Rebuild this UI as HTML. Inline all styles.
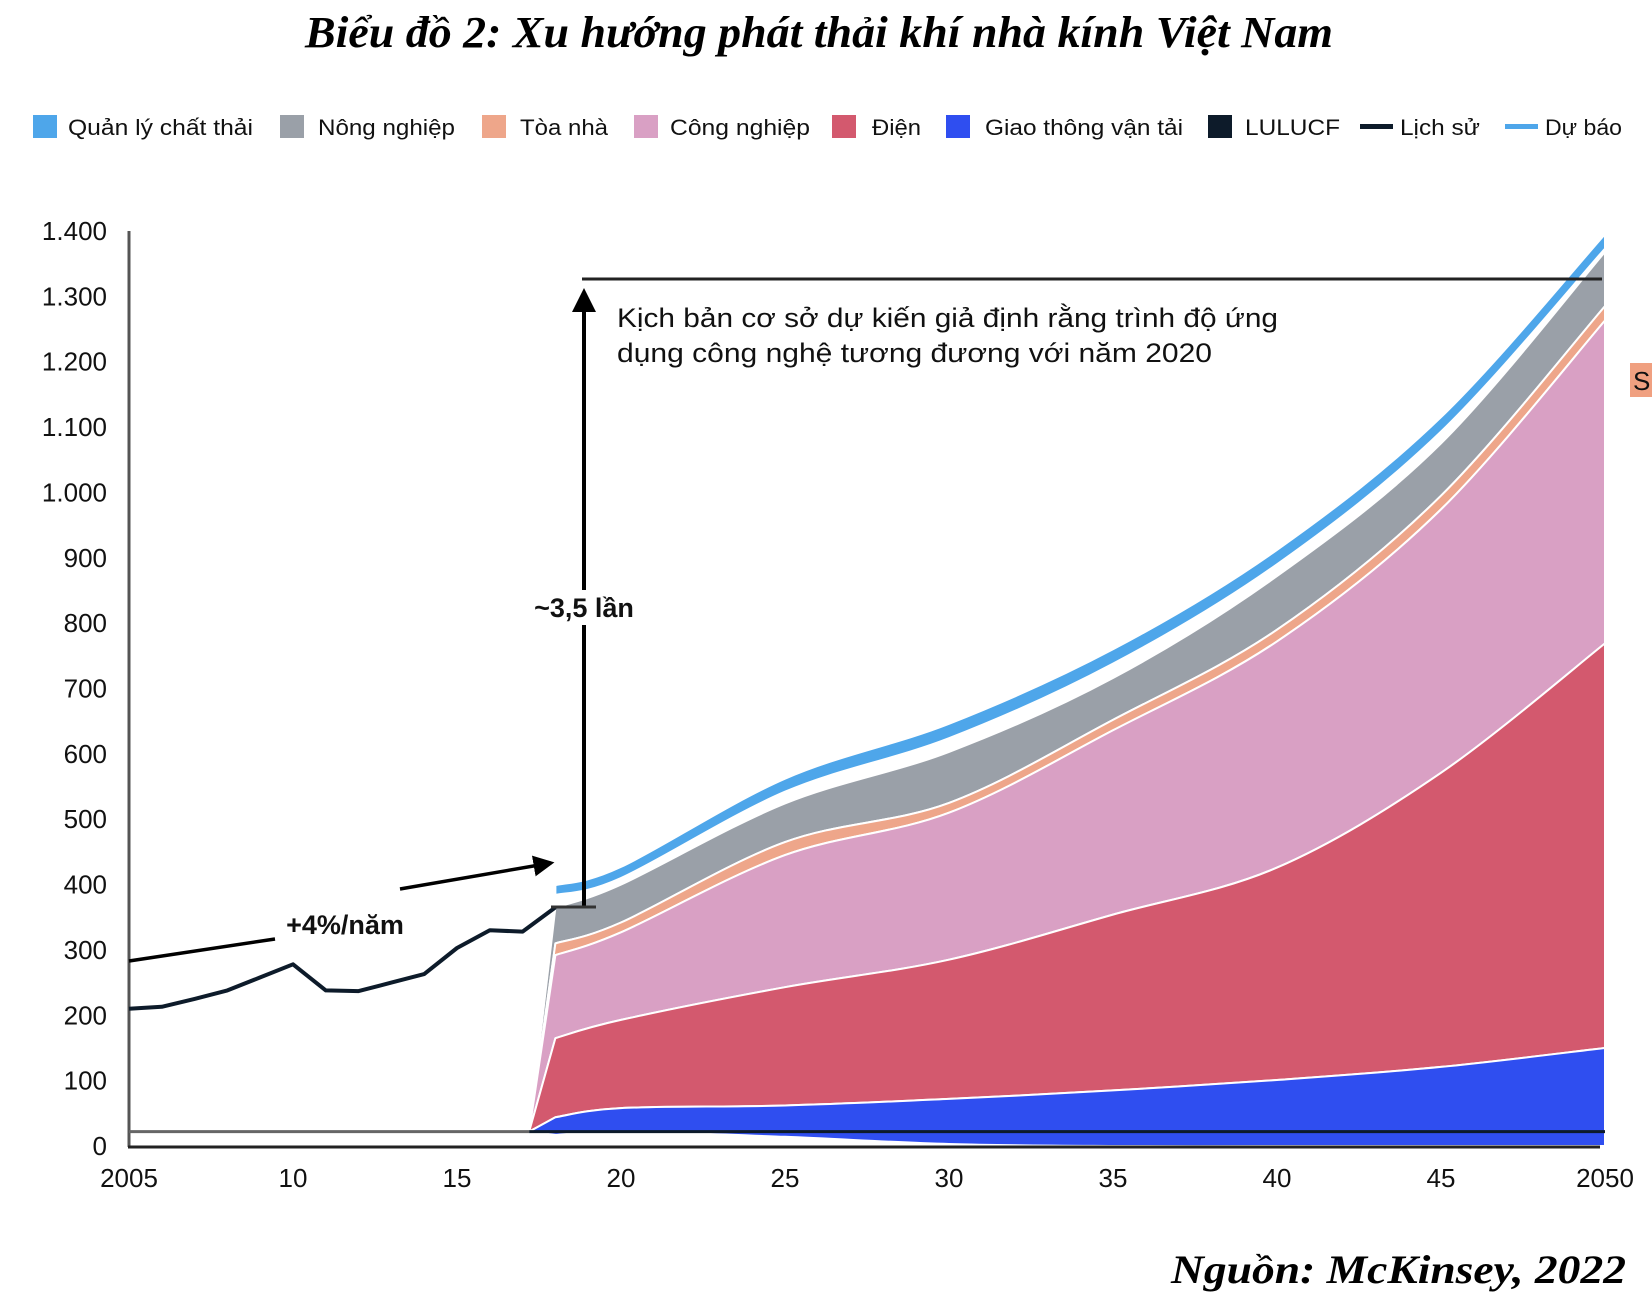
<!DOCTYPE html>
<html><head><meta charset="utf-8"><style>
html,body{margin:0;padding:0;background:#fff;}
svg{display:block;}
text{font-family:"Liberation Sans",sans-serif;}
</style></head><body>
<svg id="chart" width="1652" height="1300" viewBox="0 0 1652 1300">
<text x="819" y="47" text-anchor="middle" font-size="44" font-weight="bold" font-style="italic" textLength="1028" lengthAdjust="spacingAndGlyphs" style="font-family:'Liberation Serif',serif">Biểu đồ 2: Xu hướng phát thải khí nhà kính Việt Nam</text>
<g id="legend" font-size="22" fill="#111"></g>
<g id="plot"></g>
<text x="1626" y="1283" text-anchor="end" font-size="40" font-weight="bold" font-style="italic" textLength="455" lengthAdjust="spacingAndGlyphs" style="font-family:'Liberation Serif',serif">Nguồn: McKinsey, 2022</text>
</svg>
<script>
const histYears = [2005,2006,2007,2008,2009,2010,2011,2012,2013,2014,2015,2016,2017,2018];
const histValues = [210,213,225,238,258,278,238,237,250,263,303,330,328,365];
const fcYears = [2018,2020,2025,2030,2035,2040,2045,2050];
const transportLow = [17,22,14,3,0,0,0,0];
const transport = [44,58,62,72,85,101,121,150];
const dien = [165,193,243,285,354,426,571,769];
const congNghiep = [292,327,445,510,636,772,974,1263];
const toaNha = [310,342,465,525,652,790,995,1285];
const nongNghiep = [365,400,524,603,716,872,1075,1368];
const wasteLow = [384,410,542,624,738,890,1093,1373];
const wasteTop = [399,427,562,646,760,912,1115,1395];
const startYear = 2017.2, startValue = 22, lulucfValue = 22;
const yTicks = [0,100,200,300,400,500,600,700,800,900,1000,1100,1200,1300,1400];
const yTickLabels = ["0","100","200","300","400","500","600","700","800","900","1.000","1.100","1.200","1.300","1.400"];
const xTicks = [2005,2010,2015,2020,2025,2030,2035,2040,2045,2050];
const xTickLabels = ["2005","10","15","20","25","30","35","40","45","2050"];

const NS = "http://www.w3.org/2000/svg";
const X = yr => 129 + (yr - 2005) * 32.8;
const Y = v => 1146 - v * 0.6536;
function mk(tag, attrs, parent){const e=document.createElementNS(NS,tag);for(const k in attrs)e.setAttribute(k,attrs[k]);parent.appendChild(e);return e;}
function smooth(pts){
  let d="";
  for(let i=0;i<pts.length-1;i++){
    const p0=pts[Math.max(0,i-1)],p1=pts[i],p2=pts[i+1],p3=pts[Math.min(pts.length-1,i+2)];
    const c1=[p1[0]+(p2[0]-p0[0])/6,p1[1]+(p2[1]-p0[1])/6];
    const c2=[p2[0]-(p3[0]-p1[0])/6,p2[1]-(p3[1]-p1[1])/6];
    d+=` C${c1[0].toFixed(1)},${c1[1].toFixed(1)} ${c2[0].toFixed(1)},${c2[1].toFixed(1)} ${p2[0].toFixed(1)},${p2[1].toFixed(1)}`;
  }
  return d;
}
const plotG=document.getElementById('plot');
const legendG=document.getElementById('legend');

const legItems=[["sq","#4ea6ea","Quản lý chất thải",33,68,185],["sq","#9aa0a8","Nông nghiệp",280,318,137],["sq","#eea68a","Tòa nhà",482,520,88],["sq","#d9a0c4","Công nghiệp",634,670,140],["sq","#d3596e","Điện",832,872,49],["sq","#2f4ef0","Giao thông vận tải",946,985,198],["sq","#0d1b2a","LULUCF",1208,1245,95],["ln","#0d1b2a","Lịch sử",1360,1400,80],["ln","#4ea6ea","Dự báo",1505,1545,77]];
legItems.forEach(it=>{
  let m;
  if(it[0]==="sq") m=mk('rect',{x:it[3],y:115,width:24,height:23,fill:it[1]},legendG);
  else m=mk('rect',{x:it[3],y:124,width:33,height:5,fill:it[1]},legendG);
  
  
  const t=mk('text',{x:it[4],y:135,textLength:it[5],lengthAdjust:'spacingAndGlyphs'},legendG);
  t.textContent=it[2];
  
  
});

function area(topArr,bottomArr,color,name,fromStart){
  const tp=fcYears.map((y,i)=>[X(y),Y(topArr[i])]);
  const bp=fcYears.map((y,i)=>[X(y),Y(bottomArr?bottomArr[i]:0)]).reverse();
  let d;
  if(fromStart){
    const s=[X(startYear),Y(startValue)];
    d=`M${s[0]},${s[1]} L${tp[0][0]},${tp[0][1]}`+smooth(tp)+` L${bp[0][0]},${bp[0][1]}`+smooth(bp)+` L${s[0]},${s[1]} Z`;
  } else {
    d=`M${tp[0][0]},${tp[0][1]}`+smooth(tp)+` L${bp[0][0]},${bp[0][1]}`+smooth(bp)+' Z';
  }
  const p=mk('path',{d:d,fill:color,stroke:'#fff','stroke-width':2,'stroke-linejoin':'round'},plotG);
  
  
}
area(nongNghiep,toaNha,'#9aa0a8','area-nong-nghiep',true);
area(toaNha,congNghiep,'#eea68a','area-toa-nha',true);
area(congNghiep,dien,'#d9a0c4','area-cong-nghiep',true);
area(dien,transport,'#d3596e','area-dien',true);
area(transport,transportLow,'#2f4ef0','area-giao-thong',true);
area(wasteTop,wasteLow,'#4ea6ea','area-quan-ly-chat-thai',false);

const ya=mk('line',{x1:129,y1:231,x2:129,y2:1147,stroke:'#555','stroke-width':3},plotG);


const xa=mk('line',{x1:128,y1:1147,x2:X(2050)-5,y2:1147,stroke:'#222','stroke-width':3},plotG);


const lu1=mk('line',{x1:129,y1:Y(lulucfValue),x2:X(startYear),y2:Y(lulucfValue),stroke:'#666','stroke-width':3},plotG);


const lu2=mk('line',{x1:X(startYear),y1:Y(lulucfValue),x2:X(2050),y2:Y(lulucfValue),stroke:'#0d1b2a','stroke-width':3},plotG);



yTicks.forEach((v,i)=>{
  const t=mk('text',{x:107,y:Y(v)+9,'text-anchor':'end','font-size':26,fill:'#111'},plotG);
  t.textContent=yTickLabels[i];
  
  
});
xTicks.forEach((v,i)=>{
  const t=mk('text',{x:X(v),y:1187,'text-anchor':'middle','font-size':26,fill:'#111'},plotG);
  t.textContent=xTickLabels[i];
  
  
});

const histPath=histYears.map((y,i)=>`${i?'L':'M'}${X(y).toFixed(1)},${Y(histValues[i]).toFixed(1)}`).join(' ');
const histLine=mk('path',{d:histPath,fill:'none',stroke:'#0d1b2a','stroke-width':4,'stroke-linejoin':'round'},plotG);



const defsEl=mk('defs',{},document.getElementById('chart'));
const markerEl=mk('marker',{id:'ah',markerWidth:6,markerHeight:6,refX:5,refY:3,orient:'auto',markerUnits:'strokeWidth'},defsEl);
mk('path',{d:'M0,0 L6,3 L0,6 Z',fill:'#000'},markerEl);
const tr1=mk('line',{x1:129,y1:961,x2:275,y2:939,stroke:'#000','stroke-width':3.5},plotG);


const tr2=mk('line',{x1:400,y1:889,x2:551,y2:863,stroke:'#000','stroke-width':3.5,'marker-end':'url(#ah)'},plotG);


const growthText=mk('text',{x:345,y:934,'text-anchor':'middle','font-size':27,'font-weight':'bold',fill:'#111'},plotG);
growthText.textContent='+4%/năm';



const targetLine=mk('line',{x1:582,y1:279,x2:1602,y2:279,stroke:'#222','stroke-width':3},plotG);


const va1=mk('line',{x1:584,y1:907,x2:584,y2:625,stroke:'#000','stroke-width':4},plotG);


const va2=mk('line',{x1:584,y1:590,x2:584,y2:292,stroke:'#000','stroke-width':4,'marker-end':'url(#ah)'},plotG);


const baseTick=mk('line',{x1:551,y1:907,x2:596,y2:907,stroke:'#333','stroke-width':3},plotG);


const multText=mk('text',{x:584,y:617,'text-anchor':'middle','font-size':27,'font-weight':'bold',fill:'#111'},plotG);
multText.textContent='~3,5 lần';


const note1=mk('text',{x:617,y:327,'font-size':27,fill:'#111',textLength:661,lengthAdjust:'spacingAndGlyphs'},plotG);
note1.textContent='Kịch bản cơ sở dự kiến giả định rằng trình độ ứng';


const note2=mk('text',{x:617,y:362,'font-size':27,fill:'#111',textLength:595,lengthAdjust:'spacingAndGlyphs'},plotG);
note2.textContent='dụng công nghệ tương đương với năm 2020';


const sideBox=mk('rect',{x:1630,y:363,width:22,height:34,fill:'#f0a080'},plotG);


const sideText=mk('text',{x:1633,y:390,'font-size':26,fill:'#111'},plotG);
sideText.textContent='S';


</script>
</body></html>
